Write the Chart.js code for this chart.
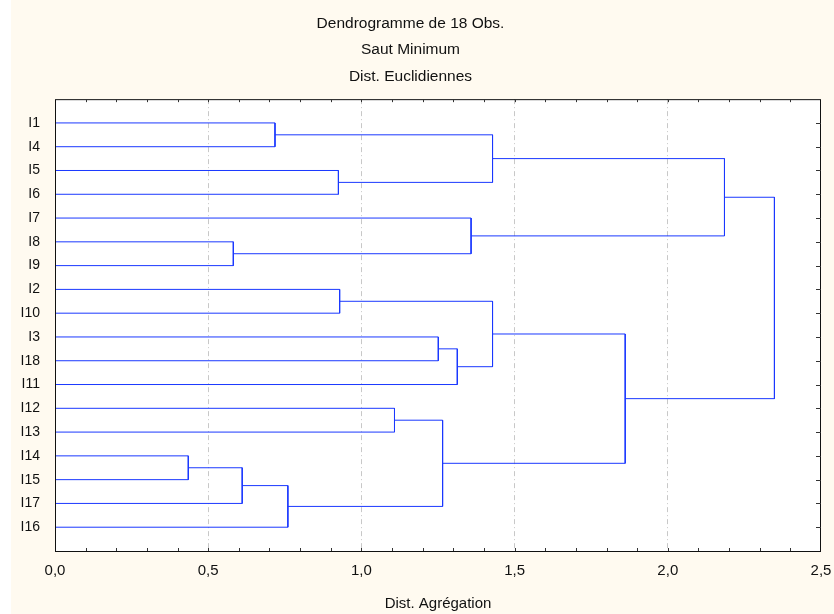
<!DOCTYPE html>
<html>
<head>
<meta charset="utf-8">
<script src="https://cdn.jsdelivr.net/npm/chart.js@4.4.0/dist/chart.umd.min.js"></script>
<style>
html,body{margin:0;padding:0;background:#ffffff;overflow:hidden}
#wrap{width:834px;height:614px;position:relative}
</style>
</head>
<body>
<div id="wrap"><canvas id="c" width="834" height="614"></canvas></div>
<script>
// ---- Data ----
const titleLines = ['Dendrogramme de 18 Obs.', 'Saut Minimum', 'Dist. Euclidiennes'];
const xAxisTitle = 'Dist. Agrégation';
// leaves in display order (top to bottom)
const leaves = ['I1','I4','I5','I6','I7','I8','I9','I2','I10','I3','I18','I11','I12','I13','I14','I15','I17','I16'];
// merges: node ids 0..17 are leaves (display order), merge k creates node 18+k
const mergeLeft   = [14, 5, 18, 0, 20, 2, 7, 12, 9, 25, 26, 4, 21, 24, 30, 31, 32];
const mergeRight  = [15, 6, 16, 1, 17, 3, 8, 13, 10, 22, 11, 19, 23, 28, 29, 27, 33];
const mergeHeight = [0.435, 0.582, 0.611, 0.718, 0.760, 0.925, 0.929, 1.108, 1.251, 1.265, 1.313, 1.358, 1.428, 1.428, 2.185, 1.861, 2.348];
const xTickValues = [0, 0.5, 1.0, 1.5, 2.0, 2.5];
const xTickLabels = ['0,0', '0,5', '1,0', '1,5', '2,0', '2,5'];

// ---- Build dendrogram links ----
const nodePos = leaves.map((_, i) => i + 1);
const nodeH = leaves.map(() => 0);
const datasets = [];
const lineColor = '#1a38ff';
for (let k = 0; k < mergeHeight.length; k++) {
  const l = mergeLeft[k], r = mergeRight[k], h = mergeHeight[k];
  datasets.push({
    data: [
      {x: nodeH[l], y: nodePos[l]},
      {x: h, y: nodePos[l]},
      {x: h, y: nodePos[r]},
      {x: nodeH[r], y: nodePos[r]}
    ],
    showLine: true,
    borderColor: lineColor,
    borderWidth: 1,
    pointRadius: 0,
    fill: false,
    tension: 0
  });
  nodePos.push((nodePos[l] + nodePos[r]) / 2);
  nodeH.push(h);
}

const FONT = '"Liberation Sans", Arial, Helvetica, sans-serif';

const framePlugin = {
  id: 'frame',
  beforeDraw(chart) {
    const {ctx, chartArea: a} = chart;
    ctx.save();
    ctx.fillStyle = '#fffaf0';
    ctx.fillRect(11, 0, chart.width - 11, chart.height);
    ctx.fillStyle = '#ffffff';
    ctx.fillRect(a.left, a.top, a.right - a.left, a.bottom - a.top);
    ctx.restore();
  },
  afterDraw(chart) {
    const {ctx, chartArea: a, scales} = chart;
    ctx.save();
    ctx.strokeStyle = '#111';
    ctx.lineWidth = 1;
    ctx.strokeRect(a.left + 0.5, a.top + 0.5, a.right - a.left - 1, a.bottom - a.top);
    ctx.beginPath();
    for (let k = 1; k < 25; k++) {
      const px = Math.round(scales.x.getPixelForValue(k / 10)) + 0.5;
      ctx.moveTo(px, a.top);
      ctx.lineTo(px, a.top + 3);
      ctx.moveTo(px, a.bottom);
      ctx.lineTo(px, a.bottom - 3);
    }
    for (let i = 0; i < leaves.length; i++) {
      const py = Math.round(scales.y.getPixelForValue(i + 1)) + 0.5;
      ctx.moveTo(a.right - 5, py);
      ctx.lineTo(a.right, py);
    }
    ctx.strokeStyle = '#333';
    ctx.stroke();
    ctx.restore();
  }
};

new Chart(document.getElementById('c'), {
  type: 'scatter',
  data: {datasets},
  plugins: [framePlugin],
  options: {
    responsive: false,
    animation: false,
    devicePixelRatio: 1,
    layout: {padding: {left: 0, right: 13, top: 0, bottom: 0}},
    plugins: {
      legend: {display: false},
      tooltip: {enabled: false},
      title: {
        display: true,
        text: titleLines,
        color: '#111',
        font: {family: FONT, size: 15.5, weight: 'normal', lineHeight: 1.713},
        padding: {top: 10, bottom: 9.5}
      }
    },
    scales: {
      x: {
        type: 'linear',
        min: 0,
        max: 2.5,
        afterBuildTicks: s => { s.ticks = xTickValues.map(v => ({value: v})); },
        afterFit: s => { s.height = 63; s.paddingLeft = 0; s.paddingRight = 0; },
        ticks: {
          autoSkip: false,
          maxRotation: 0,
          padding: 11,
          color: '#111',
          font: {family: FONT, size: 15},
          callback: (v) => xTickLabels[xTickValues.indexOf(v)]
        },
        grid: {
          drawTicks: false,
          lineWidth: 1,
          color: ctx => (ctx.tick && (ctx.tick.value === 0 || ctx.tick.value === 2.5)) ? 'rgba(0,0,0,0)' : '#c8c8c8'
        },
        border: {display: false, dash: [5, 3, 1, 3]},
        title: {
          display: true,
          text: xAxisTitle,
          color: '#111',
          font: {family: FONT, size: 15, lineHeight: 1.2},
          padding: {top: 0, bottom: 1}
        }
      },
      y: {
        type: 'linear',
        reverse: true,
        min: 0,
        max: 19,
        afterBuildTicks: s => { s.ticks = leaves.map((_, i) => ({value: i + 1})); },
        afterFit: s => { s.width = 55; s.paddingTop = 0; s.paddingBottom = 0; },
        ticks: {
          autoSkip: false,
          padding: 15,
          color: '#111',
          font: {family: FONT, size: 14},
          callback: (v) => leaves[Math.round(v) - 1]
        },
        grid: {display: false, drawTicks: false},
        border: {display: false}
      }
    }
  }
});
</script>
</body>
</html>
